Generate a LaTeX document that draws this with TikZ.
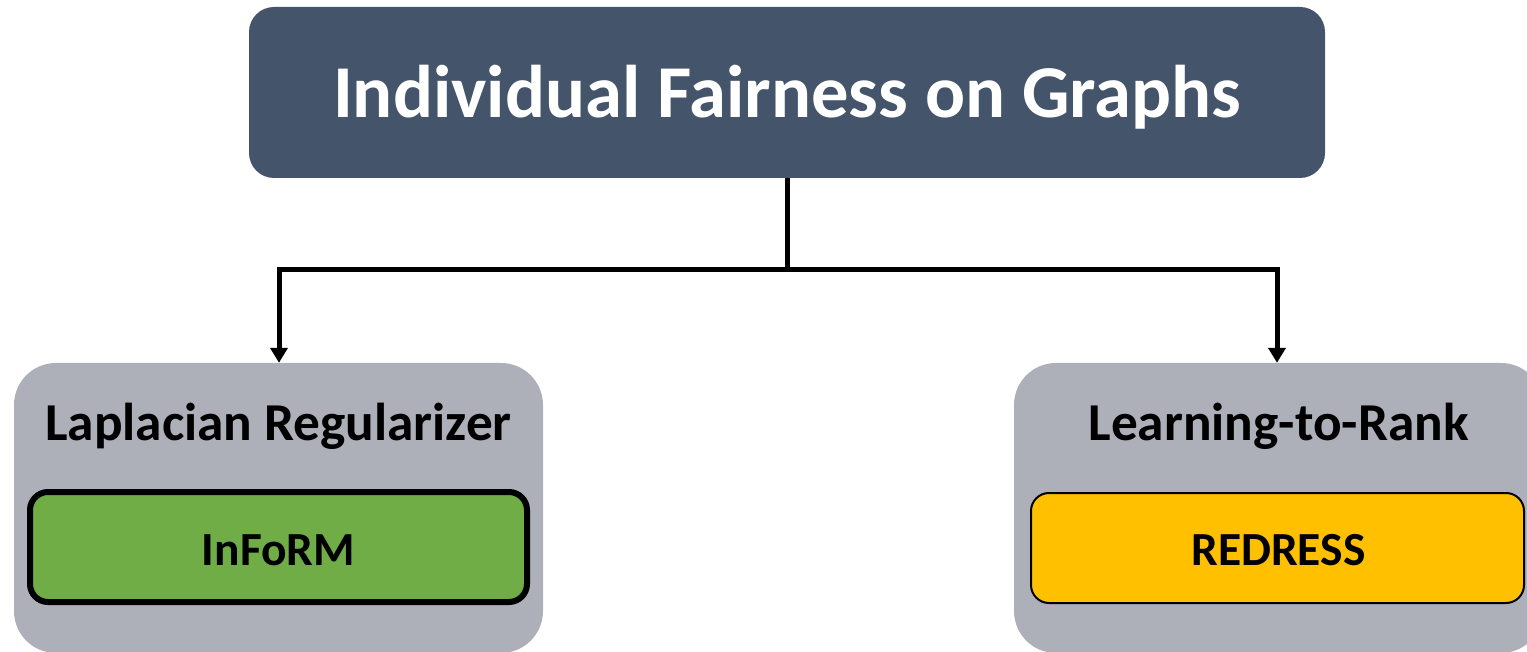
\documentclass[tikz,border=0pt]{standalone}
\usepackage{fontspec}
\setmainfont{Carlito}
\usetikzlibrary{arrows.meta}
\definecolor{slate}{HTML}{44546A}
\definecolor{panelgray}{HTML}{ADB0B8}
\definecolor{leafgreen}{HTML}{70AD47}
\definecolor{leafyellow}{HTML}{FFC000}
\tikzset{
  rootbox/.style={fill=slate, draw=none, rounded corners=25pt, minimum width=1076pt, minimum height=171pt, inner sep=0pt},
  panel/.style={fill=panelgray, draw=none, rounded corners=42pt, minimum width=529pt, minimum height=290pt, inner sep=0pt},
  leafbox/.style={rounded corners=18pt, minimum width=#1, minimum height=110pt, inner sep=0pt},
  paneltitle/.style={anchor=base, font=\bfseries\fontsize{53.3}{62}\selectfont, inner sep=0pt},
  leaftext/.style={anchor=base, font=\bfseries\fontsize{47.5}{56}\selectfont, inner sep=0pt},
  conn/.style={line width=5pt, draw=black},
  arr/.style={conn, -{Triangle[length=15pt, width=17pt]}}
}
\begin{document}
\begin{tikzpicture}[x=1pt, y=-1pt]
\useasboundingbox (0,0) rectangle (1527,652);
\node[rootbox] (root) at (787,92.5) {};
\node[anchor=base, text=white, font=\bfseries\fontsize{74.6}{88}\selectfont, inner sep=0pt] (roottext) at (787,118) {Individual Fairness on Graphs};
\node[panel] (left) at (278.5,508) {};
\node[panel] (right) at (1278.5,508) {};
\node[paneltitle] (lt) at (278.5,440) {Laplacian Regularizer};
\node[paneltitle] (rt) at (1278.5,440) {Learning-to-Rank};
\node[leafbox=497pt, fill=leafgreen, draw=black, line width=6pt] (inform) at (278.5,547) {};
\node[leafbox=493pt, fill=leafyellow, draw=black, line width=2pt] (redress) at (1277.5,548) {};
\node[leaftext] (informtext) at (278.5,565) {InFoRM};
\node[leaftext] (redresstext) at (1278.5,565) {REDRESS};
\coordinate (j) at (787,270);
\draw[conn] (root.south) -- (j);
\draw[arr] (j) -| ([xshift=0.5pt]left.north);
\draw[arr] (j) -| ([xshift=-1.5pt]right.north);
\end{tikzpicture}
\end{document}
